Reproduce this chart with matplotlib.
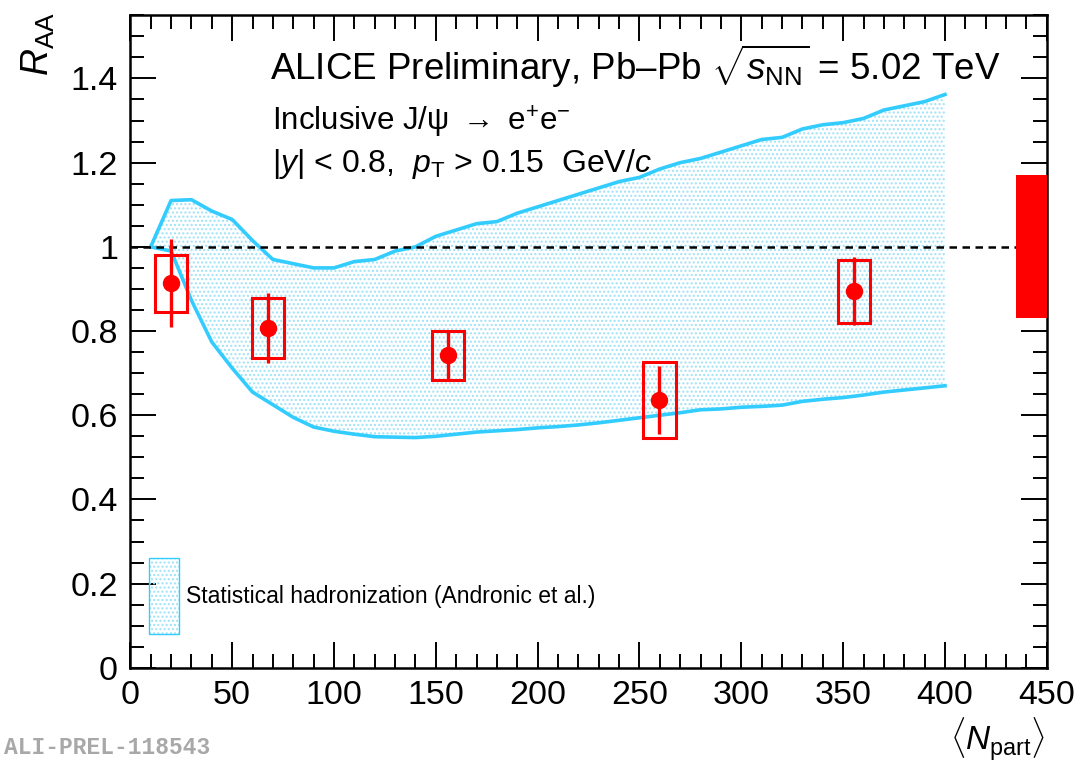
import matplotlib
matplotlib.use("Agg")
import matplotlib.pyplot as plt
from matplotlib.patches import Rectangle
from matplotlib.ticker import MultipleLocator

plt.rcParams['font.family'] = ['Liberation Sans', 'DejaVu Sans']
plt.rcParams['mathtext.fontset'] = 'custom'
plt.rcParams['mathtext.rm'] = 'Liberation Sans'
plt.rcParams['mathtext.it'] = 'Liberation Sans:italic'
plt.rcParams['mathtext.bf'] = 'Liberation Sans:bold'
plt.rcParams['hatch.linewidth'] = 1.0

# ---------------- data ----------------
npart = [20.0, 67.6, 155.9, 259.8, 355.4]
raa = [0.914, 0.807, 0.743, 0.636, 0.895]
stat_err = [0.105, 0.083, 0.060, 0.080, 0.080]
syst_lo = [0.845, 0.736, 0.683, 0.546, 0.819]
syst_hi = [0.980, 0.878, 0.800, 0.726, 0.968]
syst_halfwidth = 8.0

global_unc = 0.17

model_x = [10, 20, 30, 40, 50, 60, 70, 80, 90, 100, 110, 120, 130, 140, 150, 160,
           170, 180, 190, 200, 210, 220, 230, 240, 250, 260, 270, 280, 290, 300,
           310, 320, 330, 340, 350, 360, 370, 380, 390, 400]
model_hi = [1.000, 1.110, 1.112, 1.085, 1.065, 1.015, 0.970, 0.960, 0.950, 0.950,
            0.965, 0.970, 0.990, 1.000, 1.025, 1.040, 1.055, 1.060, 1.080, 1.095,
            1.110, 1.125, 1.140, 1.155, 1.165, 1.185, 1.200, 1.210, 1.225, 1.240,
            1.255, 1.260, 1.280, 1.290, 1.295, 1.305, 1.325, 1.335, 1.345, 1.362]
model_lo = [1.000, 0.990, 0.873, 0.774, 0.712, 0.655, 0.625, 0.595, 0.572, 0.562,
            0.555, 0.549, 0.548, 0.547, 0.550, 0.555, 0.560, 0.563, 0.566, 0.570,
            0.573, 0.577, 0.582, 0.588, 0.594, 0.600, 0.606, 0.613, 0.615, 0.619,
            0.621, 0.624, 0.633, 0.638, 0.642, 0.648, 0.655, 0.660, 0.665, 0.670]

xlim = (0, 450)
ylim = (0, 1.55)

# ---------------- figure ----------------
fig = plt.figure(figsize=(10.77, 7.65), dpi=100)
ax = fig.add_axes([0.121, 0.127, 0.851, 0.853])
ax.set_xlim(*xlim)
ax.set_ylim(*ylim)

line_col = '#33ccff'
hatch_col = '#9fe2f7'

# model band
ax.fill_between(model_x, model_lo, model_hi, facecolor='none', edgecolor=hatch_col,
                hatch='....', linewidth=0, zorder=1)
ax.plot(model_x, model_hi, color=line_col, lw=2.6, zorder=2)
ax.plot(model_x, model_lo, color=line_col, lw=2.6, zorder=2)

# reference line at 1
ax.axhline(1.0, color='black', ls=(0, (3, 2.2)), lw=1.8, zorder=3)

# global uncertainty
ax.add_patch(Rectangle((435, 1 - global_unc), 15, 2 * global_unc, facecolor='#ff0000',
                       edgecolor='none', zorder=4, clip_on=False))

# systematic boxes
for x, lo, hi in zip(npart, syst_lo, syst_hi):
    ax.add_patch(Rectangle((x - syst_halfwidth, lo), 2 * syst_halfwidth, hi - lo,
                           facecolor='none', edgecolor='#ff0000', lw=2.2, zorder=5))

# data points
ax.errorbar(npart, raa, yerr=stat_err, fmt='o', color='#ff0000', ms=11.5,
            elinewidth=2.4, capsize=0, zorder=6)

# ticks
ax.xaxis.set_major_locator(MultipleLocator(50))
ax.xaxis.set_minor_locator(MultipleLocator(10))
ax.yaxis.set_major_locator(MultipleLocator(0.2))
ax.yaxis.set_minor_locator(MultipleLocator(0.05))
ax.tick_params(which='both', direction='in', top=True, right=True, width=1.4,
               labelsize=24.5, colors='black')
ax.tick_params(axis='y', pad=9)
ax.tick_params(axis='x', pad=9)
ax.tick_params(which='major', length=19)
ax.tick_params(which='minor', length=10)
for sp in ax.spines.values():
    sp.set_linewidth(1.8)


def fmt_y(v, pos):
    if abs(v) < 1e-9:
        return '0'
    if abs(v - 1) < 1e-9:
        return '1'
    return f'{v:.1f}'


ax.yaxis.set_major_formatter(plt.FuncFormatter(fmt_y))
ax.set_yticks([0, 0.2, 0.4, 0.6, 0.8, 1.0, 1.2, 1.4])

# axis labels
fig.text(0.036, 0.985, r'$R_{\rm AA}$', rotation=90, ha='center', va='top', fontsize=27)
fig.text(0.971, 0.003, r'$\langle N_{\rm part}\rangle$', ha='right', va='bottom', fontsize=24)

# annotations
ax.text(68.5, 1.397, 'ALICE Preliminary, Pb–Pb ' + r'$\sqrt{s_{\rm NN}}$' + ' = 5.02 TeV',
        fontsize=26.5, ha='left', va='baseline')
ax.text(69.5, 1.277, 'Inclusive J/ψ ' + r'$\rightarrow$' + ' e' + r'$^{+}$' + 'e' + r'$^{-}$',
        fontsize=22.5, ha='left', va='baseline')
ax.text(69.5, 1.178, r'|$y$| < 0.8,  $p_{\rm T}$ > 0.15  GeV/$c$',
        fontsize=23, ha='left', va='baseline')

# legend
ax.add_patch(Rectangle((9, 0.08), 15, 0.18, facecolor='none', edgecolor=hatch_col,
                       hatch='....', lw=0, zorder=3))
ax.add_patch(Rectangle((9, 0.08), 15, 0.18, facecolor='none', edgecolor=line_col,
                       lw=1.0, zorder=3))
ax.text(27.5, 0.17, 'Statistical hadronization (Andronic et al.)', fontsize=16.5,
        ha='left', va='center')

fig.text(0.004, 0.008, 'ALI-PREL-118543', fontsize=16.5, color='#a8a8a8',
         family=['Liberation Mono', 'DejaVu Sans Mono'], weight='bold',
         ha='left', va='bottom')

fig.savefig('out.png', dpi=100)
